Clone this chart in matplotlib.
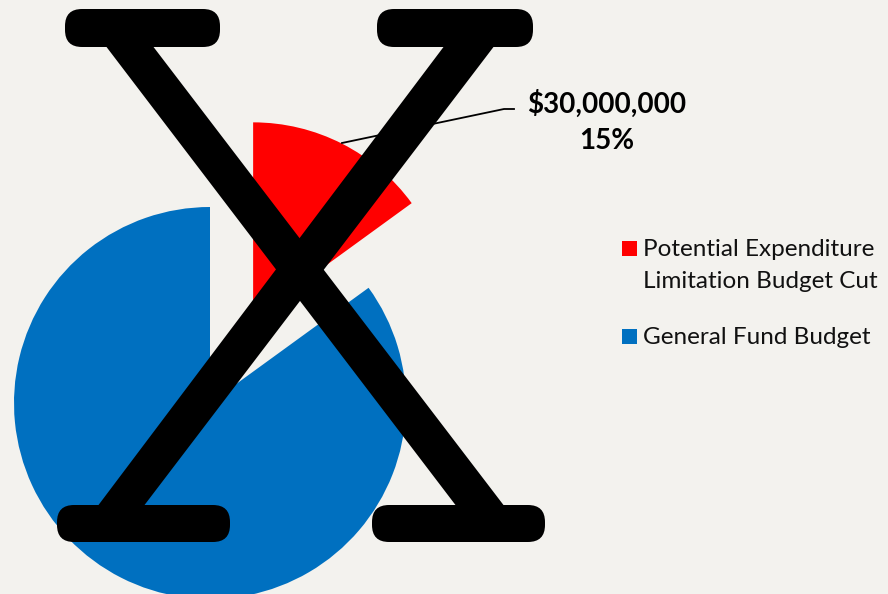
import matplotlib
matplotlib.use("Agg")
import matplotlib.pyplot as plt
from matplotlib.patches import FancyBboxPatch, Polygon, Rectangle

W, H = 888, 594

# chart data
labels = ["Potential Expenditure\nLimitation Budget Cut", "General Fund Budget"]
values = [30_000_000, 170_000_000]
colors = ["#ff0000", "#0070c0"]
slice_text = "$30,000,000\n15%"

BG = "#f3f2ee"


def py(y):
    # image rows (top-down) -> axes units (bottom-up)
    return H - y


fig = plt.figure(figsize=(W / 100, H / 100), dpi=100, facecolor=BG)
ax = fig.add_axes([0, 0, 1, 1])
ax.set_facecolor(BG)

# pie in pixel units, red slice pulled out along its bisector
wedges, _ = ax.pie(values, colors=colors, startangle=90, counterclock=False,
                   center=(210, py(403)), radius=196, explode=[95, 0],
                   wedgeprops=dict(linewidth=0))
ax.set_xlim(0, W)
ax.set_ylim(0, H)
ax.set_aspect("equal")
ax.axis("off")

# data label + leader line
ax.plot([342, 504, 514], [py(143), py(109), py(109)], color="black", lw=1.3)
for i, line in enumerate(slice_text.split("\n")):
    ax.text(607, py(104 + 37 * i), line, ha="center", va="center",
            fontsize=20, fontweight="bold", family="Lato")

# legend by hand so the swatch sits on the first text line
for lab, col, yy in zip(labels, colors, [248, 336]):
    ax.add_patch(Rectangle((622, py(yy) - 7.5), 15, 15, color=col, lw=0))
    for j, line in enumerate(lab.split("\n")):
        ax.text(643, py(yy + 33 * j) - 1, line, ha="left", va="center",
                fontsize=17.5, family="Lato", color="#111111")

# the big "X" struck over the chart
for x0, x1, y0, y1 in [(65, 220, 9, 47), (377, 533, 9, 47),
                       (57, 230, 505, 542), (372, 545, 505, 542)]:
    ax.add_patch(FancyBboxPatch((x0, py(y1)), x1 - x0, y1 - y0,
                                boxstyle="round,pad=0,rounding_size=17",
                                fc="black", ec="none", zorder=5))
for pts in [[(105, 45), (152, 45), (505, 507), (457, 507)],
            [(445, 45), (495, 45), (143, 507), (97, 507)]]:
    ax.add_patch(Polygon([(x, py(y)) for x, y in pts], closed=True,
                         fc="black", ec="none", zorder=5))

fig.savefig("out.png", dpi=100, facecolor=BG)
